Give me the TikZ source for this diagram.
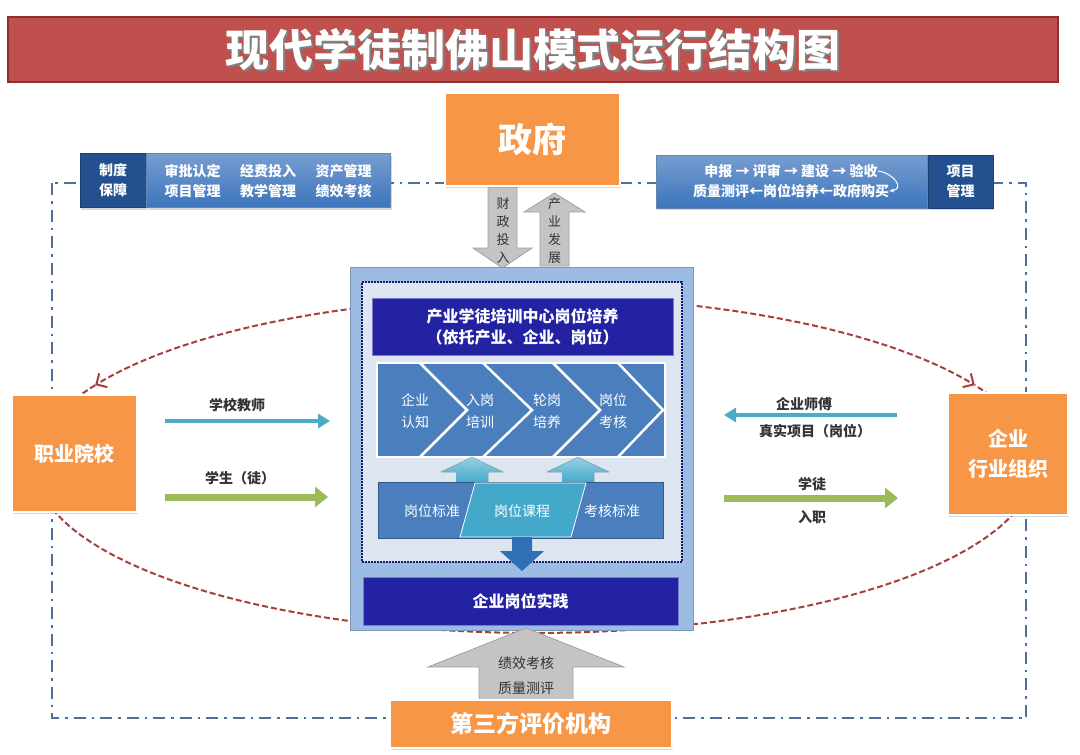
\documentclass[tikz,border=0pt]{standalone}
\usepackage{fontspec}
\setmainfont{Noto Sans CJK SC}
\usetikzlibrary{arrows.meta, positioning, shadows}

\definecolor{titlefill}{HTML}{C0504D}
\definecolor{titledraw}{HTML}{8E2F2C}
\definecolor{orangefill}{HTML}{F79646}
\definecolor{bluelight}{HTML}{3C74BC}
\definecolor{bluedark}{HTML}{23508E}
\definecolor{centrefill}{HTML}{9CBCE4}
\definecolor{innerfill}{HTML}{DCE5F0}
\definecolor{navyfill}{HTML}{2222A2}
\definecolor{stagefill}{HTML}{4A7EBD}
\definecolor{cyanfill}{HTML}{43A8C9}
\definecolor{downfill}{HTML}{2E6FB6}
\definecolor{framecol}{HTML}{4E6E9C}
\definecolor{ringcol}{HTML}{A83E3E}
\definecolor{teacherline}{HTML}{4BACC6}
\definecolor{studentline}{HTML}{9BBB59}
\definecolor{grayfill}{HTML}{C4C4C4}
\definecolor{graydraw}{HTML}{A0A0A0}
\definecolor{labeltext}{HTML}{333333}

\begin{document}
\begin{tikzpicture}
  [x=1pt, y=-1pt,
   orangebox/.style={rectangle, fill=orangefill, draw=white, line width=2.5pt,
     drop shadow={opacity=0.3, shadow xshift=1pt, shadow yshift=-2pt},
     text=white, font=\bfseries\fontsize{20}{30}\selectfont, align=center},
   darkbox/.style={rectangle, fill=bluedark, draw=bluedark!80!black, line width=0.6pt,
     drop shadow={opacity=0.3, shadow xshift=1pt, shadow yshift=-2pt},
     text=white, font=\bfseries\fontsize{14}{20}\selectfont, align=center},
   lightbox/.style={rectangle, top color=bluelight!70!white, bottom color=bluelight,
     draw=bluedark!70, line width=0.6pt,
     drop shadow={opacity=0.3, shadow xshift=1pt, shadow yshift=-2pt}},
   boxtext/.style={text=white, font=\bfseries\fontsize{14}{20}\selectfont, inner sep=0pt},
   navybar/.style={rectangle, fill=navyfill, draw=navyfill!60!white, line width=1pt,
     text=white, font=\bfseries\fontsize{16}{21}\selectfont, align=center},
   stagetext/.style={text=white, font=\fontsize{14}{22}\selectfont, align=center},
   flowlabel/.style={text=labeltext, font=\bfseries\fontsize{14}{18}\selectfont},
   blockarrow/.style={fill=grayfill, draw=graydraw, line width=0.8pt},
   frameline/.style={draw=framecol, line width=2.5pt, dash pattern=on 12pt off 6pt on 2.5pt off 6pt},
   ringline/.style={draw=ringcol, line width=2pt, dash pattern=on 6pt off 3pt},
   ringtip/.style={-{Straight Barb[length=8pt, width=16pt]}}
  ]
  \fill[white] (0,0) rectangle (1080,755);
  \useasboundingbox (0,0) rectangle (1080,755);

  % frame and ring behind everything
  \draw[frameline] (52,183) rectangle (1026,718);
  \draw[ringline] plot[domain=151.6:388.4, samples=90] ({535+500*cos(\x)}, {465-168*sin(\x)});
  \draw[ringline, ringtip] plot[domain=90:151.6, samples=30] ({535+500*cos(\x)}, {465-168*sin(\x)});
  \draw[ringline, ringtip] plot[domain=90:28.4, samples=30] ({535+500*cos(\x)}, {465-168*sin(\x)});

  % title
  \node (title) at (533,49.5) [rectangle, fill=titlefill, draw=titledraw, line width=1.5pt,
    minimum width=1050pt, minimum height=65pt] {};
  \node (titleshade) at ([shift={(2,2)}]title.center) [text=black!50,
    font=\bfseries\fontsize{44}{44}\selectfont] {现代学徒制佛山模式运行结构图};
  \node (titletext) at (title) [text=white,
    font=\bfseries\fontsize{44}{44}\selectfont] {现代学徒制佛山模式运行结构图};

  % government
  \draw[blockarrow] (488,180) -- (517,180) -- (517,248) -- (532,248) -- (502.5,268)
    -- (473,248) -- (488,248) -- cycle;
  \draw[blockarrow] (540,266) -- (569,266) -- (569,212) -- (585,212) -- (554.5,193)
    -- (524,212) -- (540,212) -- cycle;
  \node (fund) at (503,230.5) [font=\fontsize{13}{18}\selectfont, text=labeltext, align=center] {财\\政\\投\\入};
  \node (growth) at (554.5,230.5) [font=\fontsize{13}{18}\selectfont, text=labeltext, align=center] {产\\业\\发\\展};
  \node (gov) at (532.5,139.5) [orangebox, minimum width=175pt, minimum height=93pt,
    font=\bfseries\fontsize{34}{34}\selectfont] {政府};

  % blue boxes
  \node (rules) at (113,180.5) [darkbox, minimum width=66pt, minimum height=54pt] {制度\\保障};
  \node (rulelist) [lightbox, right=0pt of rules, minimum width=244pt, minimum height=54pt] {};
  \foreach \rowa/\rowb [count=\i] in {审批认定/项目管理, 经费投入/教学管理, 资产管理/绩效考核}{
    \node (ra\i) at (117+75.5*\i,171) [boxtext] {\rowa};
    \node (rb\i) at (117+75.5*\i,191) [boxtext] {\rowb};
  }
  \node (project) at (960.5,181.5) [darkbox, minimum width=65pt, minimum height=53pt] {项目\\管理};
  \node (projflow) [lightbox, left=0pt of project, minimum width=271pt, minimum height=53pt] {};
  \node (flowa) at (791,171) [boxtext] {申报 → 评审 → 建设 → 验收};
  \node (flowb) at (791,191) [boxtext] {质量测评←岗位培养←政府购买};
  \draw[white, line width=1pt, -{Stealth[length=5pt]}] (flowa.east)
    .. controls +(16,2) and +(16,-2) .. (flowb.east);

  % training centre
  \node (centre) at (521.5,448.5) [rectangle, fill=centrefill, draw=centrefill!80!black,
    line width=0.8pt, minimum width=343pt, minimum height=363pt] {};
  \node (inner) at (522,422) [rectangle, fill=innerfill, draw=navyfill!70!black, line width=2pt,
    dash pattern=on 1.6pt off 1.4pt, minimum width=320pt, minimum height=280pt] {};
  \node (header) at (522.5,326.5) [navybar, minimum width=301pt, minimum height=57pt]
    {产业学徒培训中心岗位培养\\（依托产业、企业、岗位）};
  \node (stages) at (521,410) [rectangle, fill=stagefill, draw=white, line width=2.5pt,
    minimum width=288pt, minimum height=94pt] {};
  \foreach \a/\b in {420/467, 483/532, 553/600, 618/663}
    \draw[white, line width=2.5pt] (\a,363) -- (\b,410) -- (\a,457);
  \foreach \stage/\x [count=\i] in {企业\\认知/415, 入岗\\培训/480, 轮岗\\培养/547, 岗位\\考核/613}
    \node (stage\i) at (\x,411) [stagetext] {\stage};

  \foreach \x in {472, 578}
    \fill[top color=cyanfill!55!white, bottom color=cyanfill] (\x-16,483) -- (\x+16,483)
      -- (\x+16,472) -- (\x+31,472) -- (\x,457) -- (\x-31,472) -- (\x-16,472) -- cycle;

  \node (standards) at (520.5,510) [rectangle, fill=stagefill, draw=stagefill!70!black,
    line width=0.5pt, minimum width=285pt, minimum height=56pt] {};
  \fill[cyanfill, draw=white, line width=0.8pt] (475,483) -- (586,483) -- (571,537)
    -- (460,537) -- cycle;
  \foreach \std/\x [count=\i] in {岗位标准/432, 岗位课程/522, 考核标准/612}
    \node (std\i) at (\x,511) [stagetext] {\std};

  \fill[downfill] (512,537) -- (532,537) -- (532,551) -- (544,551) -- (522,571)
    -- (500,551) -- (512,551) -- cycle;
  \node (practice) at (520.5,601) [navybar, minimum width=315pt, minimum height=48pt] {企业岗位实践};

  % third-party review
  \draw[blockarrow] (479,706) -- (573,706) -- (573,667) -- (624,667) -- (526,628)
    -- (428,667) -- (479,667) -- cycle;
  \node (review) at (526,676) [font=\fontsize{14}{25}\selectfont, text=labeltext, align=center]
    {绩效考核\\质量测评};
  \node (thirdparty) at (531,724) [orangebox, minimum width=282pt, minimum height=48pt,
    font=\bfseries\fontsize{23}{23}\selectfont] {第三方评价机构};

  % school and enterprise
  \node (school) at (74.5,453.5) [orangebox, minimum width=125pt, minimum height=117pt] {职业院校};
  \node (firm) at (1008,454) [orangebox, minimum width=120pt, minimum height=122pt] {企业\\行业组织};

  \coordinate (teachA) at (165,421);
  \coordinate (teachB) at (330,421);
  \coordinate (pupilA) at (165,497);
  \coordinate (pupilB) at (328,497);
  \coordinate (masterA) at (897,415);
  \coordinate (masterB) at (724,415);
  \coordinate (jobA) at (724,498);
  \coordinate (jobB) at (898,498);
  \draw[teacherline, line width=4pt, -{Triangle[length=12pt, width=14pt]}] (teachA) -- (teachB);
  \draw[studentline, line width=7pt, -{Triangle[length=13pt, width=20pt]}] (pupilA) -- (pupilB);
  \draw[teacherline, line width=4pt, -{Triangle[length=12pt, width=14pt]}] (masterA) -- (masterB);
  \draw[studentline, line width=7pt, -{Triangle[length=13pt, width=20pt]}] (jobA) -- (jobB);
  \node (teachlab) at (237,405) [flowlabel] {学校教师};
  \node (pupillab) at (240,478) [flowlabel] {学生（徒）};
  \node (masterlab) at (804,404) [flowlabel] {企业师傅};
  \node (projlab) at (815,431) [flowlabel] {真实项目（岗位）};
  \node (joblab) at (812,484) [flowlabel] {学徒};
  \node (entrylab) at (812,517) [flowlabel] {入职};
\end{tikzpicture}
\end{document}
